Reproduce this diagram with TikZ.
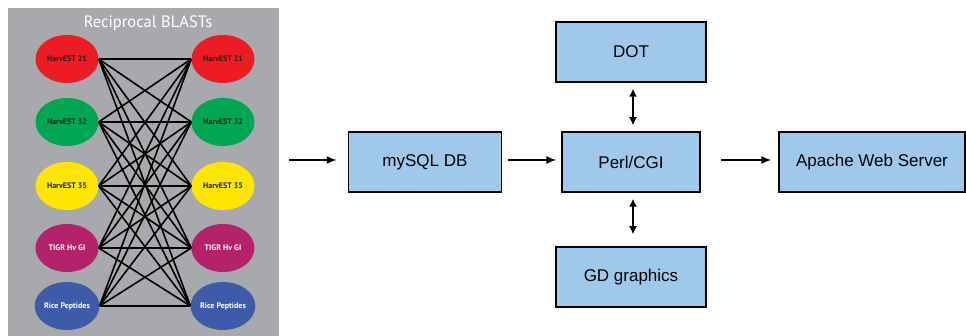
\documentclass[tikz,border=0pt]{standalone}
\usepackage{fontspec}
\setmainfont{Liberation Sans}
\newfontfamily\blastfont{PT Sans}
\usetikzlibrary{shapes.geometric,arrows.meta}

\definecolor{panelgrey}{HTML}{A7A9AC}
\definecolor{estred}{HTML}{ED1C24}
\definecolor{estgreen}{HTML}{00A651}
\definecolor{estyellow}{HTML}{FFE600}
\definecolor{tigrmag}{HTML}{B3226A}
\definecolor{riceblue}{HTML}{3D5BA9}
\definecolor{boxblue}{HTML}{A0C8EB}
\definecolor{inkdark}{HTML}{231F20}

\tikzset{
  db/.style = {ellipse, minimum width = 63pt, minimum height = 48pt, inner sep = 0pt,
               font = \blastfont\bfseries\fontsize{8}{9}\selectfont},
  stage/.style = {draw = black, line width = 1.5pt, fill = boxblue, minimum height = 60pt,
                  inner sep = 0pt, font = \fontsize{17}{20}\selectfont},
  flow/.style = {line width = 1.5pt, -{Latex[length = 10pt, width = 8pt]}},
  twoway/.style = {line width = 1.5pt, {Latex[length = 8pt, width = 8pt]}-{Latex[length = 8pt, width = 8pt]}},
}

\begin{document}
\begin{tikzpicture}[x = 1pt, y = -1pt]
 \useasboundingbox (0,0) rectangle (966,336);
 % reciprocal BLAST panel
 \fill[panelgrey] (8,8) rectangle (279,336);
 \node[text = white, font = \blastfont\fontsize{16.5}{18}\selectfont] (title) at (148,23) {Reciprocal BLASTs};

 \foreach \i/\y/\col/\txt/\label in {1/59/estred/inkdark/HarvEST 21, 2/122/estgreen/inkdark/HarvEST 32,
     3/186/estyellow/inkdark/HarvEST 35, 4/248/tigrmag/white/TIGR Hv GI, 5/306/riceblue/white/Rice Peptides} {
   \node[db, fill = \col, text = \txt] (l\i) at (67,\y) {\label};
   \node[db, fill = \col, text = \txt] (r\i) at (223,\y) {\label};
 }
 \foreach \i in {1,...,5}
   \foreach \j in {1,...,5}
     \draw[line width = 1.6pt] (l\i.east) -- (r\j.west);

 % web pipeline
 \node[stage, minimum width = 153pt] (mysql) at (425,162) {mySQL DB};
 \node[stage, minimum width = 138pt] (perl) at (631,162) {Perl/CGI};
 \node[stage, minimum width = 150pt] (dot) at (631,52) {DOT};
 \node[stage, minimum width = 150pt] (gd) at (631,277) {GD graphics};
 \node[stage, minimum width = 186pt] (apache) at (872,162) {Apache Web Server};
 \coordinate (feed) at (289,160);

 \draw[flow] (feed) -- ([xshift = -11pt, yshift = 2pt]mysql.west);
 \draw[flow] ([xshift = 6pt, yshift = 2pt]mysql.east) -- ([xshift = -5pt, yshift = 2pt]perl.west);
 \draw[flow] ([xshift = 20pt, yshift = 2pt]perl.east) -- ([xshift = -7pt, yshift = 2pt]apache.west);
 \draw[twoway] ([xshift = 2pt, yshift = -6pt]dot.south) -- ([xshift = 2pt, yshift = 6pt]perl.north);
 \draw[twoway] ([xshift = 2pt, yshift = -6pt]perl.south) -- ([xshift = 2pt, yshift = 12pt]gd.north);
\end{tikzpicture}
\end{document}
